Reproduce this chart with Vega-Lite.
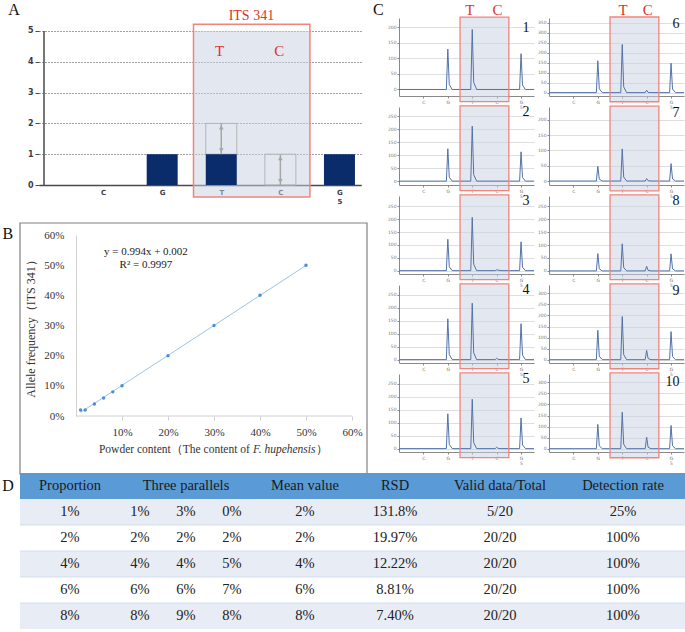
{
  "$schema": "https://vega.github.io/schema/vega-lite/v6.json",
  "padding": {"left": 2, "top": 1, "right": 0, "bottom": 0},
  "background": "white",
  "config": {
    "view": {"stroke": null},
    "text": {"font": "Liberation Serif"},
    "axis": {"labelFont": "DejaVu Sans", "labelFontSize": 4.5, "labelColor": "#777", "domainColor": "#888", "tickColor": "#888", "tickSize": 2, "labelPadding": 1, "gridColor": "#d6d6d6", "gridWidth": 0.8, "labelFlush": false, "labelOverlap": false, "tickCount": 20},
    "axisX": {"grid": false},
    "axisY": {"grid": true, "format": "d"}
  },
  "datasets": {
    "bars": [
      {"base": "C", "pos": 1, "val": 0},
      {"base": "G", "pos": 2, "val": 1},
      {"base": "T", "pos": 3, "val": 1},
      {"base": "C", "pos": 4, "val": 0},
      {"base": "G", "pos": 5, "val": 1}
    ],
    "expected": [
      {"base": "T", "pos": 3, "obs": 1, "exp": 2},
      {"base": "C", "pos": 4, "obs": 0, "exp": 1}
    ],
    "calib": [
      {"x": 0.01, "y": 0.02}, {"x": 0.02, "y": 0.02}, {"x": 0.04, "y": 0.04}, {"x": 0.06, "y": 0.06},
      {"x": 0.08, "y": 0.08}, {"x": 0.1, "y": 0.1}, {"x": 0.2, "y": 0.2}, {"x": 0.3, "y": 0.3},
      {"x": 0.4, "y": 0.4}, {"x": 0.5, "y": 0.5}
    ],
    "pyro": [
      {"p":1,"x":0,"y":0},{"p":1,"x":1.94,"y":0},{"p":1,"x":2,"y":130},{"p":1,"x":2.06,"y":16},{"p":1,"x":2.18,"y":0},{"p":1,"x":2.94,"y":0},{"p":1,"x":3,"y":193},{"p":1,"x":3.06,"y":23},{"p":1,"x":3.18,"y":0},{"p":1,"x":4.94,"y":0},{"p":1,"x":5,"y":115},{"p":1,"x":5.06,"y":14},{"p":1,"x":5.18,"y":0},{"p":1,"x":5.53,"y":0},
      {"p":2,"x":0,"y":0},{"p":2,"x":1.94,"y":0},{"p":2,"x":2,"y":125},{"p":2,"x":2.06,"y":15},{"p":2,"x":2.18,"y":0},{"p":2,"x":2.94,"y":0},{"p":2,"x":3,"y":212},{"p":2,"x":3.06,"y":25},{"p":2,"x":3.18,"y":0},{"p":2,"x":4.94,"y":0},{"p":2,"x":5,"y":113},{"p":2,"x":5.06,"y":14},{"p":2,"x":5.18,"y":0},{"p":2,"x":5.53,"y":0},
      {"p":3,"x":0,"y":0},{"p":3,"x":1.94,"y":0},{"p":3,"x":2,"y":122},{"p":3,"x":2.06,"y":15},{"p":3,"x":2.18,"y":0},{"p":3,"x":2.94,"y":0},{"p":3,"x":3,"y":207},{"p":3,"x":3.06,"y":25},{"p":3,"x":3.18,"y":0},{"p":3,"x":3.94,"y":0},{"p":3,"x":4,"y":3},{"p":3,"x":4.18,"y":0},{"p":3,"x":4.94,"y":0},{"p":3,"x":5,"y":112},{"p":3,"x":5.06,"y":13},{"p":3,"x":5.18,"y":0},{"p":3,"x":5.53,"y":0},
      {"p":4,"x":0,"y":0},{"p":4,"x":1.94,"y":0},{"p":4,"x":2,"y":157},{"p":4,"x":2.06,"y":19},{"p":4,"x":2.18,"y":0},{"p":4,"x":2.94,"y":0},{"p":4,"x":3,"y":217},{"p":4,"x":3.06,"y":26},{"p":4,"x":3.18,"y":0},{"p":4,"x":3.94,"y":0},{"p":4,"x":4,"y":5},{"p":4,"x":4.06,"y":1},{"p":4,"x":4.18,"y":0},{"p":4,"x":4.94,"y":0},{"p":4,"x":5,"y":138},{"p":4,"x":5.06,"y":17},{"p":4,"x":5.18,"y":0},{"p":4,"x":5.53,"y":0},
      {"p":5,"x":0,"y":0},{"p":5,"x":1.94,"y":0},{"p":5,"x":2,"y":134},{"p":5,"x":2.06,"y":16},{"p":5,"x":2.18,"y":0},{"p":5,"x":2.94,"y":0},{"p":5,"x":3,"y":190},{"p":5,"x":3.06,"y":23},{"p":5,"x":3.18,"y":0},{"p":5,"x":3.94,"y":0},{"p":5,"x":4,"y":5},{"p":5,"x":4.06,"y":1},{"p":5,"x":4.18,"y":0},{"p":5,"x":4.94,"y":0},{"p":5,"x":5,"y":118},{"p":5,"x":5.06,"y":14},{"p":5,"x":5.18,"y":0},{"p":5,"x":5.53,"y":0},
      {"p":6,"x":0,"y":0},{"p":6,"x":1.94,"y":0},{"p":6,"x":2,"y":160},{"p":6,"x":2.06,"y":19},{"p":6,"x":2.18,"y":0},{"p":6,"x":2.94,"y":0},{"p":6,"x":3,"y":242},{"p":6,"x":3.06,"y":29},{"p":6,"x":3.18,"y":0},{"p":6,"x":3.94,"y":0},{"p":6,"x":4,"y":12},{"p":6,"x":4.06,"y":1},{"p":6,"x":4.18,"y":0},{"p":6,"x":4.94,"y":0},{"p":6,"x":5,"y":148},{"p":6,"x":5.06,"y":18},{"p":6,"x":5.18,"y":0},{"p":6,"x":5.53,"y":0},
      {"p":7,"x":0,"y":0},{"p":7,"x":1.94,"y":0},{"p":7,"x":2,"y":48},{"p":7,"x":2.06,"y":6},{"p":7,"x":2.18,"y":0},{"p":7,"x":2.94,"y":0},{"p":7,"x":3,"y":105},{"p":7,"x":3.06,"y":13},{"p":7,"x":3.18,"y":0},{"p":7,"x":3.94,"y":0},{"p":7,"x":4,"y":8},{"p":7,"x":4.06,"y":1},{"p":7,"x":4.18,"y":0},{"p":7,"x":4.94,"y":0},{"p":7,"x":5,"y":57},{"p":7,"x":5.06,"y":7},{"p":7,"x":5.18,"y":0},{"p":7,"x":5.53,"y":0},
      {"p":8,"x":0,"y":0},{"p":8,"x":1.94,"y":0},{"p":8,"x":2,"y":67},{"p":8,"x":2.06,"y":8},{"p":8,"x":2.18,"y":0},{"p":8,"x":2.94,"y":0},{"p":8,"x":3,"y":105},{"p":8,"x":3.06,"y":13},{"p":8,"x":3.18,"y":0},{"p":8,"x":3.94,"y":0},{"p":8,"x":4,"y":18},{"p":8,"x":4.06,"y":2},{"p":8,"x":4.18,"y":0},{"p":8,"x":4.94,"y":0},{"p":8,"x":5,"y":66},{"p":8,"x":5.06,"y":8},{"p":8,"x":5.18,"y":0},{"p":8,"x":5.53,"y":0},
      {"p":9,"x":0,"y":0},{"p":9,"x":1.94,"y":0},{"p":9,"x":2,"y":133},{"p":9,"x":2.06,"y":16},{"p":9,"x":2.18,"y":0},{"p":9,"x":2.94,"y":0},{"p":9,"x":3,"y":195},{"p":9,"x":3.06,"y":23},{"p":9,"x":3.18,"y":0},{"p":9,"x":3.94,"y":0},{"p":9,"x":4,"y":42},{"p":9,"x":4.06,"y":5},{"p":9,"x":4.18,"y":0},{"p":9,"x":4.94,"y":0},{"p":9,"x":5,"y":127},{"p":9,"x":5.06,"y":15},{"p":9,"x":5.18,"y":0},{"p":9,"x":5.53,"y":0},
      {"p":10,"x":0,"y":0},{"p":10,"x":1.94,"y":0},{"p":10,"x":2,"y":110},{"p":10,"x":2.06,"y":13},{"p":10,"x":2.18,"y":0},{"p":10,"x":2.94,"y":0},{"p":10,"x":3,"y":165},{"p":10,"x":3.06,"y":20},{"p":10,"x":3.18,"y":0},{"p":10,"x":3.94,"y":0},{"p":10,"x":4,"y":52},{"p":10,"x":4.06,"y":6},{"p":10,"x":4.18,"y":0},{"p":10,"x":4.94,"y":0},{"p":10,"x":5,"y":105},{"p":10,"x":5.06,"y":13},{"p":10,"x":5.18,"y":0},{"p":10,"x":5.53,"y":0}
    ],
    "header": [
      {"c": "Proportion", "t": "Proportion"},
      {"c": "P2", "t": "Three parallels"},
      {"c": "Mean", "t": "Mean value"},
      {"c": "RSD", "t": "RSD"},
      {"c": "Valid", "t": "Valid data/Total"},
      {"c": "Rate", "t": "Detection rate"}
    ],
    "table": [
      {"Proportion": "1%", "P1": "1%", "P2": "3%", "P3": "0%", "Mean": "2%", "RSD": "131.8%", "Valid": "5/20", "Rate": "25%"},
      {"Proportion": "2%", "P1": "2%", "P2": "2%", "P3": "2%", "Mean": "2%", "RSD": "19.97%", "Valid": "20/20", "Rate": "100%"},
      {"Proportion": "4%", "P1": "4%", "P2": "4%", "P3": "5%", "Mean": "4%", "RSD": "12.22%", "Valid": "20/20", "Rate": "100%"},
      {"Proportion": "6%", "P1": "6%", "P2": "6%", "P3": "7%", "Mean": "6%", "RSD": "8.81%", "Valid": "20/20", "Rate": "100%"},
      {"Proportion": "8%", "P1": "8%", "P2": "9%", "P3": "8%", "Mean": "8%", "RSD": "7.40%", "Valid": "20/20", "Rate": "100%"}
    ]
  },
  "columns": 1,
  "spacing": -2,
  "align": "none",
  "concat": [
    {
      "spacing": 4,
      "align": "none",
      "concat": [
        {
          "columns": 1,
          "spacing": 18,
          "align": "none",
          "concat": [
            {
              "width": 322, "height": 167,
              "layer": [
                {"data": {"values": [{}]}, "mark": {"type": "rect", "fill": "#c8d2e2", "fillOpacity": 0.5},
                 "encoding": {"x": {"datum": 2.53, "type": "quantitative", "scale": {"domain": [0, 5.28], "nice": false, "zero": false}}, "x2": {"datum": 4.5},
                              "y": {"datum": -0.39, "type": "quantitative", "scale": {"domain": [0, 5.422], "nice": false, "zero": false}}, "y2": {"datum": 5}}},
                {"data": {"name": "expected"}, "mark": {"type": "bar", "width": 31, "filled": false, "color": "#b5b5b5", "strokeWidth": 1},
                 "encoding": {"x": {"field": "pos", "type": "quantitative"}, "y": {"field": "exp", "type": "quantitative"}, "y2": {"field": "obs"}}},
                {"data": {"name": "bars"}, "mark": {"type": "bar", "width": 31, "color": "#0b2c6b"},
                 "encoding": {
                   "x": {"field": "pos", "type": "quantitative", "scale": {"domain": [0, 5.28], "nice": false, "zero": false},
                         "axis": {"values": [1, 2, 3, 4, 5], "tickCount": 20, "labelExpr": "datum.value == 5 ? ['G', '5'] : ['', 'C', 'G', 'T', 'C'][datum.value]", "title": null, "ticks": false, "domainColor": "#4a4a4a", "domainWidth": 1.5, "labelFont": "DejaVu Sans", "labelFontSize": 7, "labelFontWeight": "bold", "labelColor": "#3a3a4a", "labelPadding": 3, "labelLineHeight": 9}},
                   "y": {"field": "val", "type": "quantitative", "scale": {"domain": [0, 5.422], "nice": false, "zero": false},
                         "axis": {"values": [0, 1, 2, 3, 4, 5], "tickCount": 20, "format": "d", "title": null, "domain": false, "grid": true, "gridDash": [1, 2], "gridColor": "#444", "gridWidth": 1, "tickColor": "#4a4a4a", "tickSize": 4, "labelFont": "DejaVu Sans", "labelFontSize": 8, "labelFontWeight": "bold", "labelColor": "#3a3a4a", "labelPadding": 2}}
                 }},
                {"data": {"values": [{}]}, "mark": {"type": "rule", "color": "#4a4a4a", "strokeWidth": 1.5},
                 "encoding": {"x": {"datum": 0, "type": "quantitative"}, "y": {"datum": 0, "type": "quantitative"}, "y2": {"datum": 5}}},
                {"data": {"name": "expected"}, "mark": {"type": "rule", "color": "#a6a6a6", "strokeWidth": 1.5},
                 "encoding": {"x": {"field": "pos", "type": "quantitative"}, "y": {"field": "exp", "type": "quantitative"}, "y2": {"field": "obs"}}},
                {"data": {"name": "expected"}, "mark": {"type": "point", "shape": "triangle-up", "filled": true, "size": 22, "color": "#a6a6a6", "opacity": 1, "yOffset": 4},
                 "encoding": {"x": {"field": "pos", "type": "quantitative"}, "y": {"field": "exp", "type": "quantitative"}}},
                {"data": {"name": "expected"}, "mark": {"type": "point", "shape": "triangle-down", "filled": true, "size": 22, "color": "#a6a6a6", "opacity": 1, "yOffset": -4},
                 "encoding": {"x": {"field": "pos", "type": "quantitative"}, "y": {"field": "obs", "type": "quantitative"}}},
                {"data": {"values": [{}]}, "mark": {"type": "rect", "filled": false, "color": "#f0847c", "strokeWidth": 1.5},
                 "encoding": {"x": {"datum": 2.53, "type": "quantitative"}, "x2": {"datum": 4.5}, "y": {"datum": -0.39, "type": "quantitative"}, "y2": {"datum": 5.22}}},
                {"data": {"values": [{}]}, "mark": {"type": "text", "fontSize": 14, "color": "#e0302a"},
                 "encoding": {"x": {"datum": 3.51, "type": "quantitative"}, "y": {"datum": 5.49, "type": "quantitative"}, "text": {"value": "ITS 341"}}},
                {"data": {"values": [{}]}, "mark": {"type": "text", "fontSize": 15, "color": "#e0302a"},
                 "encoding": {"x": {"datum": 2.97, "type": "quantitative"}, "y": {"datum": 4.35, "type": "quantitative"}, "text": {"value": "T"}}},
                {"data": {"values": [{}]}, "mark": {"type": "text", "fontSize": 15, "color": "#e0302a"},
                 "encoding": {"x": {"datum": 3.98, "type": "quantitative"}, "y": {"datum": 4.35, "type": "quantitative"}, "text": {"value": "C"}}},
                {"data": {"values": [{}]}, "mark": {"type": "text", "fontSize": 16, "color": "#111"},
                 "encoding": {"x": {"datum": -0.508, "type": "quantitative"}, "y": {"datum": 5.68, "type": "quantitative"}, "text": {"value": "A"}}}
              ]
            },
            {
              "width": 313, "height": 181,
              "layer": [
                {"data": {"values": [{}]}, "mark": {"type": "rect", "filled": false, "color": "#808080", "strokeWidth": 1.2},
                 "encoding": {"x": {"datum": -0.1217, "type": "quantitative", "scale": {"domain": [-0.0804, 0.6], "nice": false, "zero": false}}, "x2": {"datum": 0.6326},
                              "y": {"datum": -0.1922, "type": "quantitative", "scale": {"domain": [0, 0.6], "nice": false, "zero": false}}, "y2": {"datum": 0.6397}}},
                {"data": {"values": [{}]}, "mark": {"type": "rule", "color": "#d0d0d0", "strokeWidth": 1},
                 "encoding": {"x": {"datum": 0, "type": "quantitative"}, "x2": {"datum": 0.6}, "y": {"datum": 0, "type": "quantitative"}}},
                {"data": {"name": "calib"}, "transform": [{"regression": "y", "on": "x", "extent": [0.01, 0.5]}],
                 "mark": {"type": "line", "color": "#9dc3e6", "strokeWidth": 1},
                 "encoding": {
                   "x": {"field": "x", "type": "quantitative", "scale": {"domain": [-0.0804, 0.6], "nice": false, "zero": false},
                         "axis": {"values": [0.1, 0.2, 0.3, 0.4, 0.5, 0.6], "tickCount": 20, "format": ".0%", "title": null, "grid": false, "domain": false, "tickColor": "#d0d0d0", "tickSize": 4, "labelFont": "Liberation Serif", "labelFontSize": 11, "labelColor": "#333", "labelPadding": 6}},
                   "y": {"field": "y", "type": "quantitative", "scale": {"domain": [0, 0.6], "nice": false, "zero": false},
                         "axis": {"values": [0, 0.1, 0.2, 0.3, 0.4, 0.5, 0.6], "tickCount": 20, "format": ".0%", "offset": -37, "title": "Allele frequency（ITS 341）", "titleFont": "Liberation Serif", "titleFontSize": 12, "titleFontWeight": "normal", "titleColor": "#333", "titlePadding": 6, "grid": false, "ticks": false, "domainColor": "#d0d0d0", "labelFont": "Liberation Serif", "labelFontSize": 11, "labelColor": "#333", "labelPadding": 12}}
                 }},
                {"data": {"name": "calib"}, "mark": {"type": "point", "filled": true, "size": 12, "color": "#4a8fd6", "opacity": 1},
                 "encoding": {"x": {"field": "x", "type": "quantitative"}, "y": {"field": "y", "type": "quantitative"}}},
                {"data": {"values": [{}]}, "mark": {"type": "text", "fontSize": 11, "color": "#222"},
                 "encoding": {"x": {"datum": 0.152, "type": "quantitative"}, "y": {"datum": 0.5436, "type": "quantitative"}, "text": {"value": "y = 0.994x + 0.002"}}},
                {"data": {"values": [{}]}, "mark": {"type": "text", "fontSize": 11, "color": "#222"},
                 "encoding": {"x": {"datum": 0.152, "type": "quantitative"}, "y": {"datum": 0.5005, "type": "quantitative"}, "text": {"value": "R² = 0.9997"}}},
                {"data": {"values": [{}]}, "mark": {"type": "text", "fontSize": 11.5, "color": "#333", "align": "right"},
                 "encoding": {"x": {"datum": 0.378, "type": "quantitative"}, "y": {"datum": -0.1127, "type": "quantitative"}, "text": {"value": "Powder content（The  content of"}}},
                {"data": {"values": [{}]}, "mark": {"type": "text", "fontSize": 11.5, "color": "#333", "align": "left", "fontStyle": "italic"},
                 "encoding": {"x": {"datum": 0.385, "type": "quantitative"}, "y": {"datum": -0.1127, "type": "quantitative"}, "text": {"value": "F. hupehensis"}}},
                {"data": {"values": [{}]}, "mark": {"type": "text", "fontSize": 11.5, "color": "#333", "align": "left"},
                 "encoding": {"x": {"datum": 0.522, "type": "quantitative"}, "y": {"datum": -0.1127, "type": "quantitative"}, "text": {"value": "）"}}},
                {"data": {"values": [{}]}, "mark": {"type": "text", "fontSize": 16, "color": "#111"},
                 "encoding": {"x": {"datum": -0.148, "type": "quantitative"}, "y": {"datum": 0.603, "type": "quantitative"}, "text": {"value": "B"}}}
              ]
            }
          ]
        },
        {
          "columns": 2,
          "bounds": "flush",
          "spacing": {"row": 11, "column": 15},
          "concat": [
            {"width": 135, "height": 78, "layer": [
              {"data": {"values": [{}]}, "mark": {"type": "rect", "fill": "#c8d2e2", "fillOpacity": 0.5}, "encoding": {"x": {"datum": 2.5, "type": "quantitative", "scale": {"domain": [0, 5.53], "nice": false, "zero": false}}, "x2": {"datum": 4.5}, "y": {"datum": -39, "type": "quantitative", "scale": {"domain": [-21, 230], "nice": false, "zero": false}}, "y2": {"datum": 233}}},
              {"data": {"name": "pyro"}, "transform": [{"filter": "datum.p == 1"}], "mark": {"type": "line", "color": "#5272a8", "strokeWidth": 1}, "encoding": {"x": {"field": "x", "type": "quantitative", "scale": {"domain": [0, 5.53], "nice": false, "zero": false}, "axis": {"values": [1, 2, 3, 4, 5], "labelExpr": "datum.value == 5 ? ['G', '5'] : ['', 'C', 'G', 'T', 'C'][datum.value]", "title": null, "labelLineHeight": 5}}, "y": {"field": "y", "type": "quantitative", "scale": {"domain": [-21, 230], "nice": false, "zero": false}, "axis": {"values": [0, 50, 100, 150, 200], "title": null}}}},
              {"data": {"values": [{}]}, "mark": {"type": "rect", "filled": false, "color": "#f0847c", "strokeWidth": 1.3}, "encoding": {"x": {"datum": 2.5, "type": "quantitative"}, "x2": {"datum": 4.5}, "y": {"datum": -39, "type": "quantitative"}, "y2": {"datum": 233}}},
              {"data": {"values": [{}]}, "mark": {"type": "text", "fontSize": 14, "align": "right", "color": "#111"}, "encoding": {"x": {"datum": 5.35, "type": "quantitative"}, "y": {"datum": 198, "type": "quantitative"}, "text": {"value": "1"}}},
              {"data": {"values": [{}]}, "mark": {"type": "text", "fontSize": 16, "color": "#111"}, "encoding": {"x": {"datum": -0.85, "type": "quantitative"}, "y": {"datum": 256, "type": "quantitative"}, "text": {"value": "C"}}},
              {"data": {"values": [{}]}, "mark": {"type": "text", "fontSize": 15, "color": "#e0302a"}, "encoding": {"x": {"datum": 2.9, "type": "quantitative"}, "y": {"datum": 256, "type": "quantitative"}, "text": {"value": "T"}}},
              {"data": {"values": [{}]}, "mark": {"type": "text", "fontSize": 15, "color": "#e0302a"}, "encoding": {"x": {"datum": 4.03, "type": "quantitative"}, "y": {"datum": 256, "type": "quantitative"}, "text": {"value": "C"}}}
            ]},
            {"width": 135, "height": 78, "layer": [
              {"data": {"values": [{}]}, "mark": {"type": "rect", "fill": "#c8d2e2", "fillOpacity": 0.5}, "encoding": {"x": {"datum": 2.5, "type": "quantitative", "scale": {"domain": [0, 5.53], "nice": false, "zero": false}}, "x2": {"datum": 4.5}, "y": {"datum": -46, "type": "quantitative", "scale": {"domain": [-17, 375], "nice": false, "zero": false}}, "y2": {"datum": 380}}},
              {"data": {"name": "pyro"}, "transform": [{"filter": "datum.p == 6"}], "mark": {"type": "line", "color": "#5272a8", "strokeWidth": 1}, "encoding": {"x": {"field": "x", "type": "quantitative", "scale": {"domain": [0, 5.53], "nice": false, "zero": false}, "axis": {"values": [1, 2, 3, 4, 5], "labelExpr": "datum.value == 5 ? ['G', '5'] : ['', 'C', 'G', 'T', 'C'][datum.value]", "title": null, "labelLineHeight": 5}}, "y": {"field": "y", "type": "quantitative", "scale": {"domain": [-17, 375], "nice": false, "zero": false}, "axis": {"values": [0, 50, 100, 150, 200, 250, 300, 350], "title": null}}}},
              {"data": {"values": [{}]}, "mark": {"type": "rect", "filled": false, "color": "#f0847c", "strokeWidth": 1.3}, "encoding": {"x": {"datum": 2.5, "type": "quantitative"}, "x2": {"datum": 4.5}, "y": {"datum": -46, "type": "quantitative"}, "y2": {"datum": 380}}},
              {"data": {"values": [{}]}, "mark": {"type": "text", "fontSize": 14, "align": "right", "color": "#111"}, "encoding": {"x": {"datum": 5.35, "type": "quantitative"}, "y": {"datum": 347, "type": "quantitative"}, "text": {"value": "6"}}},
              {"data": {"values": [{}]}, "mark": {"type": "text", "fontSize": 15, "color": "#e0302a"}, "encoding": {"x": {"datum": 3.03, "type": "quantitative"}, "y": {"datum": 415, "type": "quantitative"}, "text": {"value": "T"}}},
              {"data": {"values": [{}]}, "mark": {"type": "text", "fontSize": 15, "color": "#e0302a"}, "encoding": {"x": {"datum": 4.05, "type": "quantitative"}, "y": {"datum": 415, "type": "quantitative"}, "text": {"value": "C"}}}
            ]},
            {"width": 135, "height": 78, "layer": [
              {"data": {"values": [{}]}, "mark": {"type": "rect", "fill": "#c8d2e2", "fillOpacity": 0.5}, "encoding": {"x": {"datum": 2.5, "type": "quantitative", "scale": {"domain": [0, 5.53], "nice": false, "zero": false}}, "x2": {"datum": 4.5}, "y": {"datum": -37, "type": "quantitative", "scale": {"domain": [-15, 286], "nice": false, "zero": false}}, "y2": {"datum": 290}}},
              {"data": {"name": "pyro"}, "transform": [{"filter": "datum.p == 2"}], "mark": {"type": "line", "color": "#5272a8", "strokeWidth": 1}, "encoding": {"x": {"field": "x", "type": "quantitative", "scale": {"domain": [0, 5.53], "nice": false, "zero": false}, "axis": {"values": [1, 2, 3, 4, 5], "labelExpr": "datum.value == 5 ? ['G', '5'] : ['', 'C', 'G', 'T', 'C'][datum.value]", "title": null, "labelLineHeight": 5}}, "y": {"field": "y", "type": "quantitative", "scale": {"domain": [-15, 286], "nice": false, "zero": false}, "axis": {"values": [0, 50, 100, 150, 200, 250], "title": null}}}},
              {"data": {"values": [{}]}, "mark": {"type": "rect", "filled": false, "color": "#f0847c", "strokeWidth": 1.3}, "encoding": {"x": {"datum": 2.5, "type": "quantitative"}, "x2": {"datum": 4.5}, "y": {"datum": -37, "type": "quantitative"}, "y2": {"datum": 290}}},
              {"data": {"values": [{}]}, "mark": {"type": "text", "fontSize": 14, "align": "right", "color": "#111"}, "encoding": {"x": {"datum": 5.35, "type": "quantitative"}, "y": {"datum": 265, "type": "quantitative"}, "text": {"value": "2"}}}
            ]},
            {"width": 135, "height": 78, "layer": [
              {"data": {"values": [{}]}, "mark": {"type": "rect", "fill": "#c8d2e2", "fillOpacity": 0.5}, "encoding": {"x": {"datum": 2.5, "type": "quantitative", "scale": {"domain": [0, 5.53], "nice": false, "zero": false}}, "x2": {"datum": 4.5}, "y": {"datum": -32, "type": "quantitative", "scale": {"domain": [-13, 242], "nice": false, "zero": false}}, "y2": {"datum": 245}}},
              {"data": {"name": "pyro"}, "transform": [{"filter": "datum.p == 7"}], "mark": {"type": "line", "color": "#5272a8", "strokeWidth": 1}, "encoding": {"x": {"field": "x", "type": "quantitative", "scale": {"domain": [0, 5.53], "nice": false, "zero": false}, "axis": {"values": [1, 2, 3, 4, 5], "labelExpr": "datum.value == 5 ? ['G', '5'] : ['', 'C', 'G', 'T', 'C'][datum.value]", "title": null, "labelLineHeight": 5}}, "y": {"field": "y", "type": "quantitative", "scale": {"domain": [-13, 242], "nice": false, "zero": false}, "axis": {"values": [0, 50, 100, 150, 200], "title": null}}}},
              {"data": {"values": [{}]}, "mark": {"type": "rect", "filled": false, "color": "#f0847c", "strokeWidth": 1.3}, "encoding": {"x": {"datum": 2.5, "type": "quantitative"}, "x2": {"datum": 4.5}, "y": {"datum": -32, "type": "quantitative"}, "y2": {"datum": 245}}},
              {"data": {"values": [{}]}, "mark": {"type": "text", "fontSize": 14, "align": "right", "color": "#111"}, "encoding": {"x": {"datum": 5.35, "type": "quantitative"}, "y": {"datum": 224, "type": "quantitative"}, "text": {"value": "7"}}}
            ]},
            {"width": 135, "height": 78, "layer": [
              {"data": {"values": [{}]}, "mark": {"type": "rect", "fill": "#c8d2e2", "fillOpacity": 0.5}, "encoding": {"x": {"datum": 2.5, "type": "quantitative", "scale": {"domain": [0, 5.53], "nice": false, "zero": false}}, "x2": {"datum": 4.5}, "y": {"datum": -35, "type": "quantitative", "scale": {"domain": [-13, 290], "nice": false, "zero": false}}, "y2": {"datum": 294}}},
              {"data": {"name": "pyro"}, "transform": [{"filter": "datum.p == 3"}], "mark": {"type": "line", "color": "#5272a8", "strokeWidth": 1}, "encoding": {"x": {"field": "x", "type": "quantitative", "scale": {"domain": [0, 5.53], "nice": false, "zero": false}, "axis": {"values": [1, 2, 3, 4, 5], "labelExpr": "datum.value == 5 ? ['G', '5'] : ['', 'C', 'G', 'T', 'C'][datum.value]", "title": null, "labelLineHeight": 5}}, "y": {"field": "y", "type": "quantitative", "scale": {"domain": [-13, 290], "nice": false, "zero": false}, "axis": {"values": [0, 50, 100, 150, 200, 250], "title": null}}}},
              {"data": {"values": [{}]}, "mark": {"type": "rect", "filled": false, "color": "#f0847c", "strokeWidth": 1.3}, "encoding": {"x": {"datum": 2.5, "type": "quantitative"}, "x2": {"datum": 4.5}, "y": {"datum": -35, "type": "quantitative"}, "y2": {"datum": 294}}},
              {"data": {"values": [{}]}, "mark": {"type": "text", "fontSize": 14, "align": "right", "color": "#111"}, "encoding": {"x": {"datum": 5.35, "type": "quantitative"}, "y": {"datum": 269, "type": "quantitative"}, "text": {"value": "3"}}}
            ]},
            {"width": 135, "height": 78, "layer": [
              {"data": {"values": [{}]}, "mark": {"type": "rect", "fill": "#c8d2e2", "fillOpacity": 0.5}, "encoding": {"x": {"datum": 2.5, "type": "quantitative", "scale": {"domain": [0, 5.53], "nice": false, "zero": false}}, "x2": {"datum": 4.5}, "y": {"datum": -34, "type": "quantitative", "scale": {"domain": [-12, 290], "nice": false, "zero": false}}, "y2": {"datum": 294}}},
              {"data": {"name": "pyro"}, "transform": [{"filter": "datum.p == 8"}], "mark": {"type": "line", "color": "#5272a8", "strokeWidth": 1}, "encoding": {"x": {"field": "x", "type": "quantitative", "scale": {"domain": [0, 5.53], "nice": false, "zero": false}, "axis": {"values": [1, 2, 3, 4, 5], "labelExpr": "datum.value == 5 ? ['G', '5'] : ['', 'C', 'G', 'T', 'C'][datum.value]", "title": null, "labelLineHeight": 5}}, "y": {"field": "y", "type": "quantitative", "scale": {"domain": [-12, 290], "nice": false, "zero": false}, "axis": {"values": [0, 50, 100, 150, 200, 250], "title": null}}}},
              {"data": {"values": [{}]}, "mark": {"type": "rect", "filled": false, "color": "#f0847c", "strokeWidth": 1.3}, "encoding": {"x": {"datum": 2.5, "type": "quantitative"}, "x2": {"datum": 4.5}, "y": {"datum": -34, "type": "quantitative"}, "y2": {"datum": 294}}},
              {"data": {"values": [{}]}, "mark": {"type": "text", "fontSize": 14, "align": "right", "color": "#111"}, "encoding": {"x": {"datum": 5.35, "type": "quantitative"}, "y": {"datum": 269, "type": "quantitative"}, "text": {"value": "8"}}}
            ]},
            {"width": 135, "height": 78, "layer": [
              {"data": {"values": [{}]}, "mark": {"type": "rect", "fill": "#c8d2e2", "fillOpacity": 0.5}, "encoding": {"x": {"datum": 2.5, "type": "quantitative", "scale": {"domain": [0, 5.53], "nice": false, "zero": false}}, "x2": {"datum": 4.5}, "y": {"datum": -35, "type": "quantitative", "scale": {"domain": [-13, 287], "nice": false, "zero": false}}, "y2": {"datum": 291}}},
              {"data": {"name": "pyro"}, "transform": [{"filter": "datum.p == 4"}], "mark": {"type": "line", "color": "#5272a8", "strokeWidth": 1}, "encoding": {"x": {"field": "x", "type": "quantitative", "scale": {"domain": [0, 5.53], "nice": false, "zero": false}, "axis": {"values": [1, 2, 3, 4, 5], "labelExpr": "datum.value == 5 ? ['G', '5'] : ['', 'C', 'G', 'T', 'C'][datum.value]", "title": null, "labelLineHeight": 5}}, "y": {"field": "y", "type": "quantitative", "scale": {"domain": [-13, 287], "nice": false, "zero": false}, "axis": {"values": [0, 50, 100, 150, 200, 250], "title": null}}}},
              {"data": {"values": [{}]}, "mark": {"type": "rect", "filled": false, "color": "#f0847c", "strokeWidth": 1.3}, "encoding": {"x": {"datum": 2.5, "type": "quantitative"}, "x2": {"datum": 4.5}, "y": {"datum": -35, "type": "quantitative"}, "y2": {"datum": 291}}},
              {"data": {"values": [{}]}, "mark": {"type": "text", "fontSize": 14, "align": "right", "color": "#111"}, "encoding": {"x": {"datum": 5.35, "type": "quantitative"}, "y": {"datum": 266, "type": "quantitative"}, "text": {"value": "4"}}}
            ]},
            {"width": 135, "height": 78, "layer": [
              {"data": {"values": [{}]}, "mark": {"type": "rect", "fill": "#c8d2e2", "fillOpacity": 0.5}, "encoding": {"x": {"datum": 2.5, "type": "quantitative", "scale": {"domain": [0, 5.53], "nice": false, "zero": false}}, "x2": {"datum": 4.5}, "y": {"datum": -41, "type": "quantitative", "scale": {"domain": [-15, 338], "nice": false, "zero": false}}, "y2": {"datum": 343}}},
              {"data": {"name": "pyro"}, "transform": [{"filter": "datum.p == 9"}], "mark": {"type": "line", "color": "#5272a8", "strokeWidth": 1}, "encoding": {"x": {"field": "x", "type": "quantitative", "scale": {"domain": [0, 5.53], "nice": false, "zero": false}, "axis": {"values": [1, 2, 3, 4, 5], "labelExpr": "datum.value == 5 ? ['G', '5'] : ['', 'C', 'G', 'T', 'C'][datum.value]", "title": null, "labelLineHeight": 5}}, "y": {"field": "y", "type": "quantitative", "scale": {"domain": [-15, 338], "nice": false, "zero": false}, "axis": {"values": [0, 50, 100, 150, 200, 250, 300], "title": null}}}},
              {"data": {"values": [{}]}, "mark": {"type": "rect", "filled": false, "color": "#f0847c", "strokeWidth": 1.3}, "encoding": {"x": {"datum": 2.5, "type": "quantitative"}, "x2": {"datum": 4.5}, "y": {"datum": -41, "type": "quantitative"}, "y2": {"datum": 343}}},
              {"data": {"values": [{}]}, "mark": {"type": "text", "fontSize": 14, "align": "right", "color": "#111"}, "encoding": {"x": {"datum": 5.35, "type": "quantitative"}, "y": {"datum": 313, "type": "quantitative"}, "text": {"value": "9"}}}
            ]},
            {"width": 135, "height": 78, "layer": [
              {"data": {"values": [{}]}, "mark": {"type": "rect", "fill": "#c8d2e2", "fillOpacity": 0.5}, "encoding": {"x": {"datum": 2.5, "type": "quantitative", "scale": {"domain": [0, 5.53], "nice": false, "zero": false}}, "x2": {"datum": 4.5}, "y": {"datum": -35, "type": "quantitative", "scale": {"domain": [-13, 287], "nice": false, "zero": false}}, "y2": {"datum": 291}}},
              {"data": {"name": "pyro"}, "transform": [{"filter": "datum.p == 5"}], "mark": {"type": "line", "color": "#5272a8", "strokeWidth": 1}, "encoding": {"x": {"field": "x", "type": "quantitative", "scale": {"domain": [0, 5.53], "nice": false, "zero": false}, "axis": {"values": [1, 2, 3, 4, 5], "labelExpr": "datum.value == 5 ? ['G', '5'] : ['', 'C', 'G', 'T', 'C'][datum.value]", "title": null, "labelLineHeight": 5}}, "y": {"field": "y", "type": "quantitative", "scale": {"domain": [-13, 287], "nice": false, "zero": false}, "axis": {"values": [0, 50, 100, 150, 200, 250], "title": null}}}},
              {"data": {"values": [{}]}, "mark": {"type": "rect", "filled": false, "color": "#f0847c", "strokeWidth": 1.3}, "encoding": {"x": {"datum": 2.5, "type": "quantitative"}, "x2": {"datum": 4.5}, "y": {"datum": -35, "type": "quantitative"}, "y2": {"datum": 291}}},
              {"data": {"values": [{}]}, "mark": {"type": "text", "fontSize": 14, "align": "right", "color": "#111"}, "encoding": {"x": {"datum": 5.35, "type": "quantitative"}, "y": {"datum": 266, "type": "quantitative"}, "text": {"value": "5"}}}
            ]},
            {"width": 135, "height": 78, "layer": [
              {"data": {"values": [{}]}, "mark": {"type": "rect", "fill": "#c8d2e2", "fillOpacity": 0.5}, "encoding": {"x": {"datum": 2.5, "type": "quantitative", "scale": {"domain": [0, 5.53], "nice": false, "zero": false}}, "x2": {"datum": 4.5}, "y": {"datum": -41, "type": "quantitative", "scale": {"domain": [-15, 338], "nice": false, "zero": false}}, "y2": {"datum": 343}}},
              {"data": {"name": "pyro"}, "transform": [{"filter": "datum.p == 10"}], "mark": {"type": "line", "color": "#5272a8", "strokeWidth": 1}, "encoding": {"x": {"field": "x", "type": "quantitative", "scale": {"domain": [0, 5.53], "nice": false, "zero": false}, "axis": {"values": [1, 2, 3, 4, 5], "labelExpr": "datum.value == 5 ? ['G', '5'] : ['', 'C', 'G', 'T', 'C'][datum.value]", "title": null, "labelLineHeight": 5}}, "y": {"field": "y", "type": "quantitative", "scale": {"domain": [-15, 338], "nice": false, "zero": false}, "axis": {"values": [0, 50, 100, 150, 200, 250, 300], "title": null}}}},
              {"data": {"values": [{}]}, "mark": {"type": "rect", "filled": false, "color": "#f0847c", "strokeWidth": 1.3}, "encoding": {"x": {"datum": 2.5, "type": "quantitative"}, "x2": {"datum": 4.5}, "y": {"datum": -41, "type": "quantitative"}, "y2": {"datum": 343}}},
              {"data": {"values": [{}]}, "mark": {"type": "text", "fontSize": 14, "align": "right", "color": "#111"}, "encoding": {"x": {"datum": 5.35, "type": "quantitative"}, "y": {"datum": 302, "type": "quantitative"}, "text": {"value": "10"}}}
            ]}
          ]
        }
      ]
    },
    {
      "width": 646, "height": 156,
      "layer": [
        {"data": {"values": [{"row": "h"}]}, "mark": {"type": "rect", "color": "#5b9bd5"},
         "encoding": {"x": {"datum": 0.5, "type": "quantitative", "scale": {"domain": [0, 0.5, 1, 2, 3, 4, 5, 6, 7, 8, 8.5], "range": [-31, -19, 31, 101, 147, 193, 266, 356, 461, 584, 646], "nice": false, "zero": false}, "axis": null}, "x2": {"datum": 8.5},
                      "y": {"field": "row", "type": "nominal", "scale": {"domain": ["h", "1%", "2%", "4%", "6%", "8%"], "paddingInner": 0, "paddingOuter": 0}, "axis": null}}},
        {"data": {"name": "table"}, "transform": [{"filter": "indexof(['1%', '4%', '8%'], datum.Proportion) >= 0"}], "mark": {"type": "rect", "color": "#e7ecf5"},
         "encoding": {"x": {"datum": 0.5, "type": "quantitative"}, "x2": {"datum": 8.5}, "y": {"field": "Proportion", "type": "nominal"}}},
        {"data": {"name": "table"}, "transform": [{"filter": "datum.Proportion != '1%'"}], "mark": {"type": "rule", "color": "#d3ddee", "strokeWidth": 1},
         "encoding": {"x": {"datum": 0.5, "type": "quantitative"}, "x2": {"datum": 8.5}, "y": {"field": "Proportion", "type": "nominal", "bandPosition": 0}}},
        {"data": {"name": "header"}, "transform": [{"calculate": "indexof(['lbl', 'Proportion', 'P1', 'P2', 'P3', 'Mean', 'RSD', 'Valid', 'Rate'], datum.c)", "as": "ci"}],
         "mark": {"type": "text", "fontSize": 14.5, "color": "#1a1a1a"},
         "encoding": {"x": {"field": "ci", "type": "quantitative"}, "y": {"datum": "h", "type": "nominal"}, "text": {"field": "t"}}},
        {"data": {"name": "table"}, "transform": [{"fold": ["Proportion", "P1", "P2", "P3", "Mean", "RSD", "Valid", "Rate"], "as": ["c", "t"]}, {"calculate": "indexof(['lbl', 'Proportion', 'P1', 'P2', 'P3', 'Mean', 'RSD', 'Valid', 'Rate'], datum.c)", "as": "ci"}],
         "mark": {"type": "text", "fontSize": 14.5, "color": "#222"},
         "encoding": {"x": {"field": "ci", "type": "quantitative"}, "y": {"field": "Proportion", "type": "nominal"}, "text": {"field": "t"}}},
        {"data": {"values": [{}]}, "mark": {"type": "text", "fontSize": 16, "color": "#111"},
         "encoding": {"x": {"datum": 0, "type": "quantitative"}, "y": {"datum": "h", "type": "nominal"}, "text": {"value": "D"}}}
      ]
    }
  ]
}
